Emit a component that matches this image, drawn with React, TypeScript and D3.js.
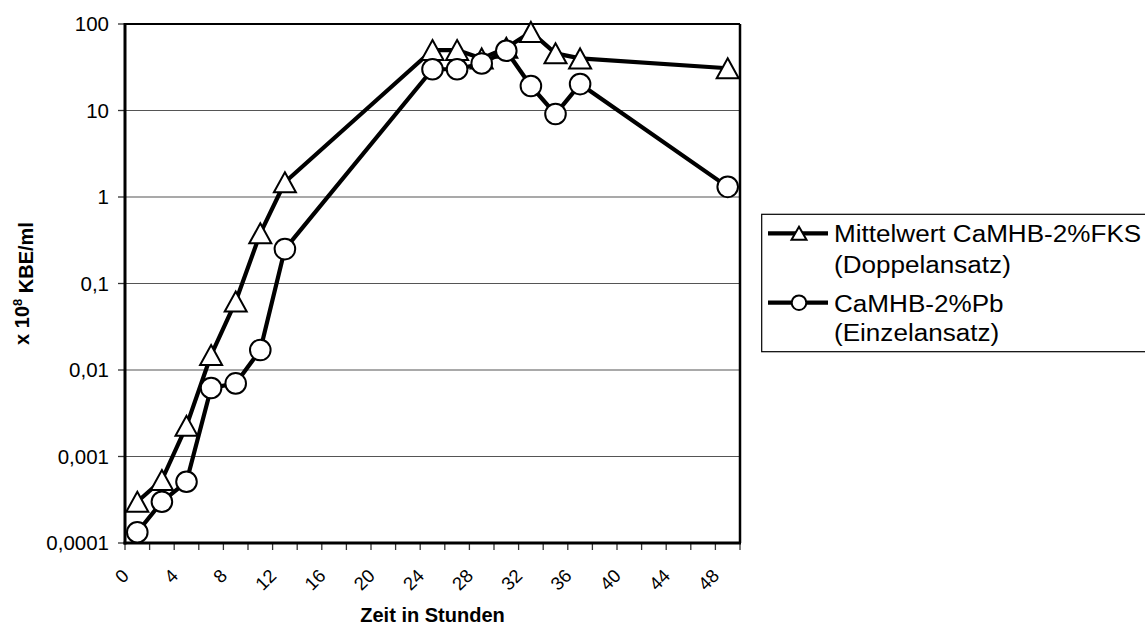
import React from "react";
import * as d3 from "d3";

const hours = [1, 3, 5, 7, 9, 11, 13, 25, 27, 29, 31, 33, 35, 37, 49];
const fksValues = [0.0003, 0.000535, 0.00226, 0.0149, 0.062, 0.38, 1.48, 50, 50, 40, 53, 81, 45.8, 40, 30.8];
const pbValues = [0.000133, 0.0003, 0.00051, 0.0062, 0.007, 0.017, 0.25, 30, 30, 35, 49, 19.2, 9.1, 20.2, 1.31];
const yTickValues = [100, 10, 1, 0.1, 0.01, 0.001, 0.0001];
const yTickLabels = ["100", "10", "1", "0,1", "0,01", "0,001", "0,0001"];
const xTickValues = d3.range(0, 51, 2);
const xLabelValues = d3.range(0, 49, 4);
const seriesNames = [
  ["Mittelwert CaMHB-2%FKS", "(Doppelansatz)"],
  ["CaMHB-2%Pb", "(Einzelansatz)"],
];

const W = 1145;
const H = 628;
const left = 125;
const right = 740;
const top = 24;
const bottom = 543;
const FONT = "Liberation Sans, Arial, sans-serif";

function Triangle({ cx, cy, w, h, sw }: { cx: number; cy: number; w: number; h: number; sw: number }) {
  const p = `M${cx},${cy - h / 2} L${cx + w / 2},${cy + h / 2} L${cx - w / 2},${cy + h / 2} Z`;
  return <path d={p} fill="#fff" stroke="#000" strokeWidth={sw} strokeLinejoin="miter" />;
}

export default function App() {
  const x = d3.scaleLinear().domain([0, 50]).range([left, right]);
  const y = d3.scaleLog().domain([0.0001, 100]).range([bottom, top]);
  const line = d3
    .line<[number, number]>()
    .x((d) => x(d[0]))
    .y((d) => y(d[1]));
  const fksPts: [number, number][] = hours.map((h, i) => [h, fksValues[i]]);
  const pbPts: [number, number][] = hours.map((h, i) => [h, pbValues[i]]);

  const legX1 = 768;
  const legX2 = 828;
  const legTextX = 834;
  const legScale = 1.12;

  return (
    <svg
      width={W}
      height={H}
      style={{ position: "absolute", left: 0, top: 0, background: "#fff" }}
      fontFamily={FONT}
    >
      <rect x={0} y={0} width={W} height={H} fill="#fff" />
      {yTickValues.slice(1, -1).map((v) => (
        <line key={v} x1={left} x2={right} y1={y(v)} y2={y(v)} stroke="#555" strokeWidth={1.2} />
      ))}
      <line x1={left} x2={right} y1={top} y2={top} stroke="#000" strokeWidth={2.2} />
      <line x1={right} x2={right} y1={top} y2={bottom} stroke="#000" strokeWidth={2.5} />
      {yTickValues.map((v, i) => (
        <g key={v}>
          <line x1={left - 7} x2={left} y1={y(v)} y2={y(v)} stroke="#333" strokeWidth={1.3} />
          <text x={109} y={y(v)} dy="0.36em" textAnchor="end" fontSize={20.5} fill="#000">
            {yTickLabels[i]}
          </text>
        </g>
      ))}
      {xTickValues.map((v) => (
        <line key={v} x1={x(v)} x2={x(v)} y1={bottom} y2={bottom + 7} stroke="#333" strokeWidth={1.3} />
      ))}
      {xLabelValues.map((v) => (
        <text
          key={v}
          transform={`translate(${x(v) + 5},577) rotate(-45)`}
          textAnchor="end"
          fontSize={18.5}
          fill="#000"
        >
          {v}
        </text>
      ))}
      <line x1={left} x2={left} y1={top - 1} y2={bottom + 1.5} stroke="#000" strokeWidth={3} />
      <line x1={left - 1.5} x2={right + 1} y1={bottom} y2={bottom} stroke="#000" strokeWidth={3} />

      <path d={line(fksPts) || ""} fill="none" stroke="#000" strokeWidth={4.2} strokeLinejoin="round" />
      {fksPts.map((d, i) => (
        <Triangle key={i} cx={x(d[0])} cy={y(d[1])} w={22} h={20} sw={2} />
      ))}
      <path d={line(pbPts) || ""} fill="none" stroke="#000" strokeWidth={4.2} strokeLinejoin="round" />
      {pbPts.map((d, i) => (
        <circle key={i} cx={x(d[0])} cy={y(d[1])} r={10.3} fill="#fff" stroke="#000" strokeWidth={2} />
      ))}

      <text x={(left + right) / 2} y={622} textAnchor="middle" fontSize={20} fontWeight="bold" fill="#000">
        Zeit in Stunden
      </text>
      <text
        transform={`translate(29,${(top + bottom) / 2}) rotate(-90)`}
        textAnchor="middle"
        fontSize={20}
        fontWeight="bold"
        fill="#000"
      >
        x 10
        <tspan dy="-0.55em" fontSize={13}>
          8
        </tspan>
        <tspan dy="0.55em"> KBE/ml</tspan>
      </text>

      <rect x={761.7} y={214.3} width={400} height={137.4} fill="#fff" stroke="#000" strokeWidth={1.2} />
      <line x1={legX1} x2={legX2} y1={233.3} y2={233.3} stroke="#000" strokeWidth={4.2} />
      <Triangle cx={799} cy={233.3} w={15} h={13} sw={2} />
      <line x1={legX1} x2={legX2} y1={302.7} y2={302.7} stroke="#000" strokeWidth={4.2} />
      <circle cx={799} cy={302.7} r={7.3} fill="#fff" stroke="#000" strokeWidth={2} />
      {[
        [seriesNames[0][0], 242.3],
        [seriesNames[0][1], 273.3],
        [seriesNames[1][0], 311.7],
        [seriesNames[1][1], 341],
      ].map(([t, yy]) => (
        <text
          key={t as string}
          transform={`translate(${legTextX},${yy}) scale(${legScale},1)`}
          fontSize={23.3}
          fill="#000"
        >
          {t}
        </text>
      ))}
    </svg>
  );
}
